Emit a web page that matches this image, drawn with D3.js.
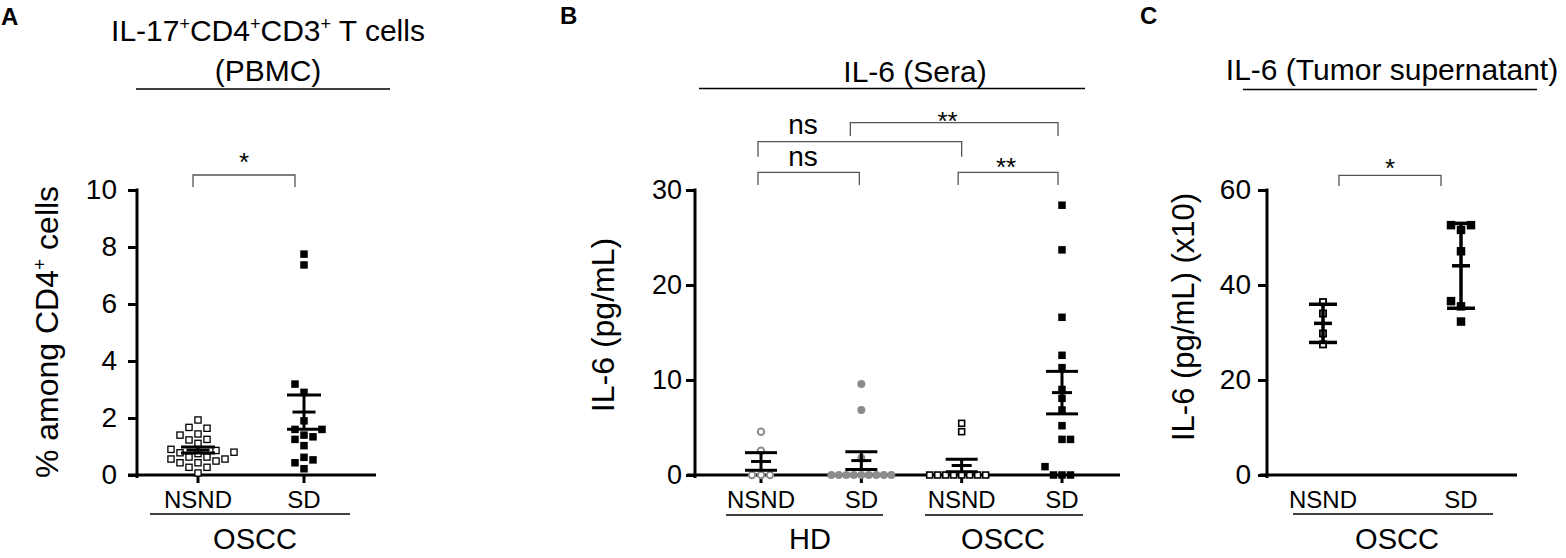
<!DOCTYPE html>
<html><head><meta charset="utf-8">
<script src="https://cdn.jsdelivr.net/npm/d3@7"></script>
<style>body{margin:0;background:#fff}svg{display:block}</style>
</head><body><svg id="c" width="1566" height="558"></svg>
<script>
// ---------------- DATA ----------------
// Panel A: % IL-17+ among CD4+ cells (PBMC)
const aCategories = ["NSND", "SD"];
const aGroup = "OSCC";
const aNSND = [1.93,1.64,1.67,1.40,1.44,1.23,1.11,1.25,0.90,0.86,0.80,0.78,0.75,0.63,0.56,0.56,0.63,0.43,0.43,0.49,0.27,0.27,0.07];
const aSD = [7.75,7.37,3.19,2.90,1.90,1.60,1.60,1.40,1.34,1.25,1.03,0.62,0.53,0.43,0.22];
const aTicks = [0,2,4,6,8,10];
const aSig = [{from:0, to:1, label:"*"}];

// Panel B: IL-6 (Sera), pg/mL
const bCategories = ["NSND", "SD", "NSND", "SD"];
const bGroups = ["HD", "OSCC"];
const bHD_NSND = [4.56, 2.56, 0, 0, 0];
const bHD_SD = [9.58, 6.84, 1.80, 0, 0, 0, 0, 0, 0, 0, 0, 0];
const bOSCC_NSND = [5.44, 4.56, 0, 0, 0, 0, 0, 0, 0, 0];
const bOSCC_SD = [28.4, 23.7, 16.6, 12.6, 11.3, 9.0, 8.07, 6.84, 5.19, 3.75, 3.75, 0.88, 0, 0, 0];
const bTicks = [0,10,20,30];
const bSig = [
  {from:1, to:3, label:"**"},
  {from:0, to:2, label:"ns"},
  {from:0, to:1, label:"ns"},
  {from:2, to:3, label:"**"}
];

// Panel C: IL-6 (Tumor supernatant), pg/mL (x10)
const cCategories = ["NSND", "SD"];
const cGroup = "OSCC";
const cNSND = [36.4, 34.0, 29.8, 27.5];
const cSD = [52.6, 52.6, 51.6, 47.1, 36.6, 35.5, 32.3];
const cTicks = [0,20,40,60];
const cSig = [{from:0, to:1, label:"*"}];

// ---------------- DRAWING ----------------
const FONT = '"Liberation Sans", Arial, Helvetica, sans-serif';
const GRAY = "#8c8c8c";
const BASE = 475;
const svg = d3.select("#c");

function rich(g, x, y, parts, size, anchor, transform) {
  const t = g.append("text").attr("x", x).attr("y", y)
    .attr("font-family", FONT).attr("font-size", size)
    .attr("text-anchor", anchor || "middle").attr("fill", "#000");
  if (transform) t.attr("transform", transform);
  let shifted = false;
  parts.forEach(p => {
    const sup = Array.isArray(p);
    const s = sup ? p[0] : p;
    const ts = t.append("tspan").text(s);
    if (sup) { ts.attr("font-size", size * 0.6).attr("dy", -size * 0.38); shifted = true; }
    else if (shifted) { ts.attr("dy", size * 0.38); shifted = false; }
  });
  return t;
}
function txt(g, x, y, s, size, opts) {
  opts = opts || {};
  return g.append("text").attr("x", x).attr("y", y).text(s)
    .attr("font-family", FONT).attr("font-size", size)
    .attr("font-weight", opts.bold ? "bold" : null)
    .attr("text-anchor", opts.anchor || "middle").attr("fill", "#000");
}
function hline(g, x1, x2, y, w, col) {
  g.append("line").attr("x1", x1).attr("x2", x2).attr("y1", y).attr("y2", y)
    .attr("stroke", col || "#000").attr("stroke-width", w);
}
function bracket(g, x1, x2, y, yb) {
  g.append("path").attr("d", `M${x1},${yb}V${y}H${x2}V${yb}`)
    .attr("fill", "none").attr("stroke", "#555").attr("stroke-width", 1.3);
}

// beeswarm-style dodge placement computed from values
function dodge(values, yScale, D, shape) {
  const pts = values.map(v => ({v, y: yScale(v)})).sort((a, b) => a.v - b.v);
  const placed = [];
  for (const p of pts) {
    const cands = [0];
    for (const q of placed) {
      const dy = Math.abs(q.y - p.y);
      if (dy < D) {
        const dx = shape === "circle" ? Math.sqrt(D * D - dy * dy) : D;
        cands.push(q.x + dx, q.x - dx);
      }
    }
    const bal = d3.sum(placed, q => Math.sign(q.x));
    cands.sort((a, b) => {
      const ka = Math.abs(a) + ((bal >= 0 ? a > 0 : a < 0) ? 1e-6 : 0);
      const kb = Math.abs(b) + ((bal >= 0 ? b > 0 : b < 0) ? 1e-6 : 0);
      return ka - kb;
    });
    let chosen = 0;
    for (const c of cands) {
      const ok = placed.every(q => {
        const dx = Math.abs(q.x - c), dy = Math.abs(q.y - p.y);
        return shape === "circle" ? (dx * dx + dy * dy >= D * D - 0.01) : (dx >= D - 0.01 || dy >= D - 0.01);
      });
      if (ok) { chosen = c; break; }
    }
    p.x = chosen;
    placed.push(p);
  }
  return pts;
}

function drawPanel(p) {
  const g = svg.append("g");
  const y = d3.scaleLinear().domain(p.domain).range([BASE, p.yTop]);
  const x = d3.scalePoint().domain(d3.range(p.cats.length)).range(p.xRange);

  hline(g, p.xAxis[0], p.xAxis[1], BASE, 3);
  if (p.xTicks) p.cats.forEach((c, i) => {
    g.append("line").attr("x1", x(i)).attr("x2", x(i)).attr("y1", BASE).attr("y2", BASE + 8)
      .attr("stroke", "#000").attr("stroke-width", 3);
  });
  const ax = d3.axisLeft(y).tickValues(p.ticks).tickSize(9).tickPadding(p.pad)
    .tickSizeOuter(0).tickFormat(d3.format("d"));
  const ag = g.append("g").attr("transform", `translate(${p.yAxisX},0)`).call(ax);
  ag.attr("font-family", FONT).attr("font-size", p.tickFont);
  ag.select(".domain").attr("stroke", "#000").attr("stroke-width", 3).attr("stroke-linecap", "square")
    .attr("d", `M0,${y.range()[1]}V${BASE + 1.5}`);
  ag.selectAll(".tick line").attr("stroke", "#000").attr("stroke-width", 3);
  ag.selectAll(".tick text").attr("fill", "#000");

  p.cats.forEach((c, i) => txt(g, x(i), 508, c, 24));

  p.series.forEach((s, i) => {
    const cx = x(i);
    const pts = dodge(s.values, y, s.D, s.shape);
    pts.forEach(pt => {
      if (s.shape === "circle") {
        const sw = s.filled ? 0 : 2;
        g.append("circle").attr("cx", cx + pt.x).attr("cy", pt.y).attr("r", (s.size - sw) / 2)
          .attr("fill", s.filled ? s.color : "#fff").attr("stroke", s.color)
          .attr("stroke-width", sw);
      } else {
        const sw = s.filled ? 0 : s.sw;
        const w = s.size - sw;
        g.append("rect").attr("x", cx + pt.x - w / 2).attr("y", pt.y - w / 2)
          .attr("width", w).attr("height", w)
          .attr("fill", s.filled ? s.color : "#fff").attr("stroke", s.color)
          .attr("stroke-width", sw);
      }
    });
  });
  p.series.forEach((s, i) => {
    const cx = x(i);
    const m = d3.mean(s.values);
    const sd = d3.deviation(s.values);
    const e = p.err === "sem" ? sd / Math.sqrt(s.values.length) : sd;
    const w = p.barW;
    g.append("line").attr("x1", cx).attr("x2", cx).attr("y1", y(m + e)).attr("y2", y(m - e))
      .attr("stroke", "#000").attr("stroke-width", w);
    hline(g, cx - p.capHalf, cx + p.capHalf, y(m + e), w);
    hline(g, cx - p.capHalf, cx + p.capHalf, y(m - e), w);
    hline(g, cx - p.meanHalf, cx + p.meanHalf, y(m), w);
  });
  return {g, x, y};
}

// ---------- Panel A ----------
txt(svg, 1, 25, "A", 24, {bold: true, anchor: "start"});
rich(svg, 268, 41, ["IL-17", ["+"], "CD4", ["+"], "CD3", ["+"], " T cells"], 30);
txt(svg, 268, 81, "(PBMC)", 30);
hline(svg, 136, 390, 89, 1.5);
const A = drawPanel({
  cats: aCategories, domain: [0, 10], yTop: 190, xRange: [198, 304], xAxis: [128, 376],
  yAxisX: 137, ticks: aTicks, pad: 11, tickFont: 28, xTicks: true, err: "sem",
  capHalf: 17, meanHalf: 11.5, barW: 3,
  series: [
    {values: aNSND, shape: "square", filled: false, color: "#000", size: 7.5, sw: 1.3, D: 9},
    {values: aSD, shape: "square", filled: true, color: "#000", size: 7.5, D: 9}
  ]
});
rich(svg, 0, 0, ["% among CD4", ["+"], " cells"], 32, "middle", "translate(58,332) rotate(-90)");
hline(svg, 150, 350, 514, 1.5);
txt(svg, 255, 549, aGroup, 29);
aSig.forEach(s => {
  const x1 = A.x(s.from) - 5, x2 = A.x(s.to) - 9;
  bracket(svg, x1, x2, 175, 187);
  txt(svg, (x1 + x2) / 2, 171, s.label, 26);
});

// ---------- Panel B ----------
txt(svg, 560, 24, "B", 24, {bold: true, anchor: "start"});
txt(svg, 915, 82, "IL-6 (Sera)", 30);
hline(svg, 699, 1085, 88.5, 1.5);
const B = drawPanel({
  cats: bCategories, domain: [0, 30], yTop: 190, xRange: [761, 1062], xAxis: [687, 1120],
  yAxisX: 695, ticks: bTicks, pad: 4, tickFont: 27, xTicks: true, err: "sem",
  capHalf: 16, meanHalf: 10, barW: 3,
  series: [
    {values: bHD_NSND, shape: "circle", filled: false, color: GRAY, size: 8.5, D: 9},
    {values: bHD_SD, shape: "circle", filled: true, color: GRAY, size: 8, D: 7.5},
    {values: bOSCC_NSND, shape: "square", filled: false, color: "#000", size: 7.5, sw: 1.6, D: 8},
    {values: bOSCC_SD, shape: "square", filled: true, color: "#000", size: 7.5, D: 8.5}
  ]
});
rich(svg, 0, 0, ["IL-6 (pg/mL)"], 32, "middle", "translate(614,325) rotate(-90)");
hline(svg, 726, 883, 515, 1.5);
hline(svg, 925, 1083, 515, 1.5);
txt(svg, 810, 549, bGroups[0], 29);
txt(svg, 1003, 549, bGroups[1], 29);
const bLevels = [
  {y: 122.7, yb: 136, dx1: -11, dx2: -4, ty: 130, tx: 947.5},
  {y: 141.7, yb: 156.7, dx1: -3, dx2: 0, ty: 134, tx: 803},
  {y: 172.3, yb: 185, dx1: -3, dx2: -2, ty: 166, tx: 803},
  {y: 172.3, yb: 185, dx1: -3.5, dx2: -4, ty: 176, tx: 1006}
];
bSig.forEach((s, i) => {
  const L = bLevels[i];
  bracket(svg, B.x(s.from) + L.dx1, B.x(s.to) + L.dx2, L.y, L.yb);
  txt(svg, L.tx, L.ty, s.label, s.label === "ns" ? 28 : 26);
});

// ---------- Panel C ----------
txt(svg, 1140, 24, "C", 24, {bold: true, anchor: "start"});
txt(svg, 1392, 80, "IL-6 (Tumor supernatant)", 30);
hline(svg, 1243, 1537, 89.5, 1.5);
const C = drawPanel({
  cats: cCategories, domain: [0, 60], yTop: 190, xRange: [1323, 1461], xAxis: [1260, 1517],
  yAxisX: 1267, ticks: cTicks, pad: 7, tickFont: 28, xTicks: false, err: "sd",
  capHalf: 14, meanHalf: 9, barW: 3.5,
  series: [
    {values: cNSND, shape: "square", filled: false, color: "#000", size: 8, sw: 1.8, D: 10},
    {values: cSD, shape: "square", filled: true, color: "#000", size: 8.5, D: 10}
  ]
});
rich(svg, 0, 0, ["IL-6 (pg/mL) (x10)"], 31, "middle", "translate(1194,317) rotate(-90)");
hline(svg, 1293, 1493, 514, 1.5);
txt(svg, 1397, 549, cGroup, 29);
cSig.forEach(s => {
  const x1 = C.x(s.from) + 16, x2 = C.x(s.to) - 20;
  bracket(svg, x1, x2, 175.4, 186);
  txt(svg, (x1 + x2) / 2, 177, s.label, 26);
});
</script>
</body></html>
